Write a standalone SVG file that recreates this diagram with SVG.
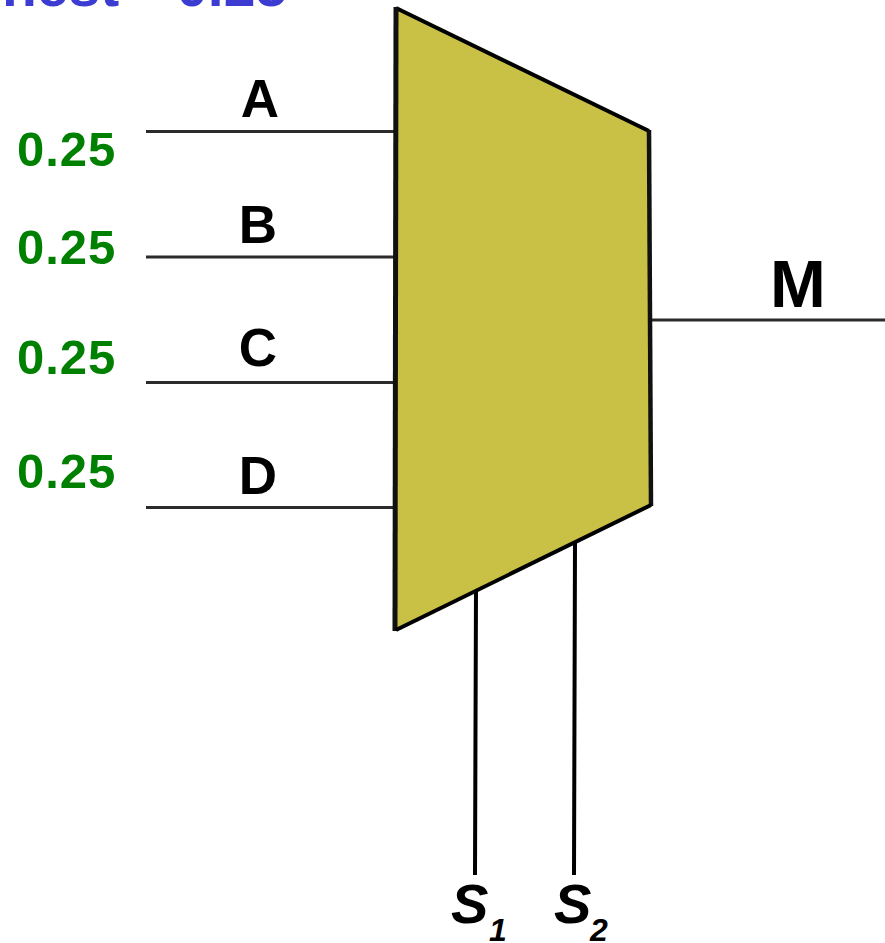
<svg xmlns="http://www.w3.org/2000/svg" width="885" height="943" viewBox="0 0 885 943">
<style>
.l{font-family:"Liberation Sans",Arial,sans-serif;font-weight:700;fill:#000}
.g{font-family:"Liberation Sans",Arial,sans-serif;font-weight:700;font-size:49px;letter-spacing:1px;fill:#008000}
.w{stroke:#2b2b2b;stroke-width:3;fill:none}
.s{stroke:#000;stroke-width:4;fill:none}
.si{font-size:56px;font-style:italic}
.su{font-size:32px;font-style:italic}
</style>
<rect width="885" height="943" fill="#fff"/>
<text x="2" y="6" font-family="Liberation Sans,Arial,sans-serif" font-weight="700" font-size="57" word-spacing="-4" fill="#3c3cd2">nest = 0.25</text>
<g id="connectors">
<path class="w" d="M146 131.500H396M146 257H396M146 382.500H396M146 507.500H396M652 320H885"/>
<path class="s" d="M476 590L475 875M575 541L574 875"/>
</g>
<g id="mux">
<path d="M396 8L649 131L651 505L396 630Z" fill="#c8c146"/>
<path d="M396 8L649 131" fill="none" stroke="#000" stroke-width="4"/>
<path d="M396 7L395 631" fill="none" stroke="#111" stroke-width="5"/>
<path d="M649 130L651 506" fill="none" stroke="#111" stroke-width="4.500"/>
<path d="M651 505L396 630" fill="none" stroke="#000" stroke-width="4"/>
</g>
<g id="labels">
<text class="l" x="260" y="117" font-size="53" text-anchor="middle">A</text>
<text class="l" x="258" y="243" font-size="53" text-anchor="middle">B</text>
<text class="l" x="258" y="366" font-size="53" text-anchor="middle">C</text>
<text class="l" x="258" y="494" font-size="53" text-anchor="middle">D</text>
<text class="l" x="798" y="307" font-size="67" text-anchor="middle">M</text>
<text class="g" x="17" y="166">0.25</text>
<text class="g" x="17" y="264">0.25</text>
<text class="g" x="17" y="374">0.25</text>
<text class="g" x="17" y="488">0.25</text>
<text class="l si" x="451" y="923">S</text>
<text class="l su" x="489" y="941">1</text>
<text class="l si" x="554" y="923">S</text>
<text class="l su" x="590" y="941">2</text>
</g>
</svg>
